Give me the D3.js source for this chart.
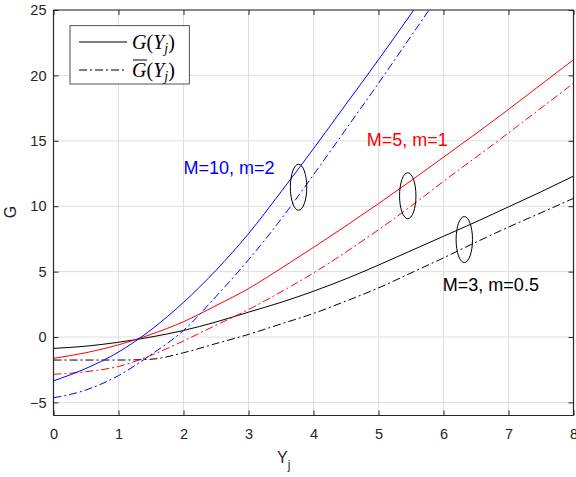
<!DOCTYPE html>
<html><head><meta charset="utf-8">
<script src="https://cdn.jsdelivr.net/npm/d3@7"></script>
<style>body{margin:0;background:#fff}svg{display:block}</style>
</head><body>
<script>
const xs = [0,0.5,1,1.5,2,2.5,3,3.5,4,4.5,5,5.5,6,6.5,7,7.5,8];
const blackSolid = [-0.87,-0.7,-0.4,0.0,0.5,1.15,1.9,2.65,3.5,4.45,5.5,6.6,7.7,8.8,9.95,11.1,12.3];
const blackDash  = [-1.76,-1.76,-1.76,-1.7,-1.2,-0.5,0.2,1.0,1.8,2.75,3.75,4.9,6.05,7.25,8.4,9.5,10.6];
const redSolid   = [-1.63,-1.2,-0.6,0.2,1.17,2.4,3.7,5.25,6.85,8.5,10.2,11.95,13.75,15.55,17.4,19.3,21.2];
const redDash    = [-2.85,-2.65,-2.25,-1.4,-0.3,0.9,2.1,3.45,4.9,6.5,8.2,10.0,11.9,13.75,15.6,17.5,19.4];
const blueSolid  = [-3.35,-2.4,-1.15,0.55,2.65,5.1,7.9,11.1,14.4,17.8,21.2,24.7,28.3,null,null,null,null];
const blueDash   = [-4.65,-4.05,-2.95,-1.35,0.5,3.1,5.9,9.0,12.4,15.9,19.4,23.0,26.6,null,null,null,null];
const xTicks = [0,1,2,3,4,5,6,7,8];
const yTicks = [-5,0,5,10,15,20,25];
const labels = [
  {text:"M=10, m=2", color:"#0000ff", x:2.0, y:12.5},
  {text:"M=5, m=1", color:"#ff0000", x:4.82, y:14.6},
  {text:"M=3, m=0.5", color:"#000000", x:5.99, y:3.5}
];
const ellipses = [{x:3.77,y:11.45},{x:5.45,y:10.8},{x:6.32,y:7.45}];

const W=576,H=477;
const m={l:53.5,r:573.5,t:10,b:415.5};
const svg=d3.select("body").append("svg").attr("width",W).attr("height",H);
const x=d3.scaleLinear().domain([0,8]).range([m.l,m.r]);
const y=d3.scaleLinear().domain([-6,25]).range([m.b,m.t]);
const axisCol="#262626";
const fontSans="Arial, 'Liberation Sans', Helvetica, sans-serif";

// grid
const g=svg.append("g");
g.selectAll(".gx").data(xTicks).join("line").attr("x1",d=>x(d)).attr("x2",d=>x(d)).attr("y1",m.t).attr("y2",m.b).attr("stroke","#dfdfdf").attr("stroke-width",1);
g.selectAll(".gy").data(yTicks).join("line").attr("y1",d=>y(d)).attr("y2",d=>y(d)).attr("x1",m.l).attr("x2",m.r).attr("stroke","#dfdfdf").attr("stroke-width",1);

// curves
svg.append("clipPath").attr("id","clp").append("rect").attr("x",m.l).attr("y",m.t).attr("width",m.r-m.l).attr("height",m.b-m.t);
const line=d3.line().defined(d=>d[1]!==null).x(d=>x(d[0])).y(d=>y(d[1])).curve(d3.curveMonotoneX);
const series=[
  {v:blackSolid,c:"#000000",dash:null},
  {v:blackDash,c:"#000000",dash:"8,3,2,3"},
  {v:redSolid,c:"#ff0000",dash:null},
  {v:redDash,c:"#ff0000",dash:"8,3,2,3"},
  {v:blueSolid,c:"#0000ff",dash:null},
  {v:blueDash,c:"#0000ff",dash:"8,3,2,3"}
];
const cg=svg.append("g").attr("clip-path","url(#clp)");
series.forEach(s=>{
  cg.append("path").datum(xs.map((d,i)=>[d,s.v[i]])).attr("d",line).attr("fill","none").attr("stroke",s.c).attr("stroke-width",1).attr("stroke-dasharray",s.dash);
});

// ellipses
svg.selectAll(".el").data(ellipses).join("ellipse").attr("cx",d=>x(d.x)).attr("cy",d=>y(d.y)).attr("rx",8.2).attr("ry",23).attr("fill","none").attr("stroke","#000").attr("stroke-width",1);

// labels
svg.selectAll(".lb").data(labels).join("text").attr("x",d=>x(d.x)).attr("y",d=>y(d.y)).attr("fill",d=>d.color).attr("font-family",fontSans).attr("font-size",18).text(d=>d.text);

// axes
const ax=svg.append("g").attr("transform",`translate(0,${m.b})`).call(d3.axisBottom(x).tickValues(xTicks).tickSize(-5).tickPadding(13).tickFormat(d3.format("d")));
const axT=svg.append("g").attr("transform",`translate(0,${m.t})`).call(d3.axisTop(x).tickValues(xTicks).tickSize(-5).tickFormat(""));
const ay=svg.append("g").attr("transform",`translate(${m.l},0)`).call(d3.axisLeft(y).tickValues(yTicks).tickSize(-5).tickPadding(7).tickFormat(d3.format("d")));
const ayR=svg.append("g").attr("transform",`translate(${m.r},0)`).call(d3.axisRight(y).tickValues(yTicks).tickSize(-5).tickFormat(""));
[ax,axT,ay,ayR].forEach(a=>{a.selectAll("path").attr("stroke",axisCol).attr("stroke-width",1.2);a.selectAll("line").attr("stroke",axisCol);a.selectAll("text").attr("fill",axisCol).attr("font-size",14.5).attr("font-family",fontSans);});
ax.select(".domain").attr("d",`M${m.l},0H${m.r}`);
axT.select(".domain").attr("d",`M${m.l},0H${m.r}`);
ay.select(".domain").attr("d",`M0,${m.t}V${m.b}`);
ayR.select(".domain").attr("d",`M0,${m.t}V${m.b}`);

// axis titles
const xt=svg.append("text").attr("x",277).attr("y",463).attr("font-family",fontSans).attr("font-size",16).attr("fill",axisCol);
xt.append("tspan").text("Y");
xt.append("tspan").attr("font-size",12).attr("dy",6).text("j");
svg.append("text").attr("transform","translate(16,212) rotate(-90)").attr("text-anchor","middle").attr("font-family",fontSans).attr("font-size",16).attr("fill",axisCol).text("G");

// legend
const lg=svg.append("g");
lg.append("rect").attr("x",70).attr("y",25.7).attr("width",119.3).attr("height",58.3).attr("fill","#fff").attr("stroke",axisCol).attr("stroke-width",0.8);
const legItems=[{dash:null,over:false,yy:42},{dash:"8,3,2,3",over:true,yy:70}];
legItems.forEach(it=>{
  lg.append("line").attr("x1",79).attr("x2",127).attr("y1",it.yy).attr("y2",it.yy).attr("stroke","#000").attr("stroke-width",1).attr("stroke-dasharray",it.dash);
  const t=lg.append("text").attr("x",132).attr("y",it.yy+7).attr("font-family","'Liberation Serif','Times New Roman',serif").attr("font-size",20).attr("fill","#000");
  t.append("tspan").attr("font-style","italic").text("G");
  t.append("tspan").text("(");
  t.append("tspan").attr("font-style","italic").text("Y");
  t.append("tspan").attr("font-style","italic").attr("font-size",14).attr("dy",4).text("j");
  t.append("tspan").attr("dy",-4).text(")");
  if(it.over){lg.append("line").attr("x1",133).attr("x2",147).attr("y1",it.yy-10).attr("y2",it.yy-10).attr("stroke","#000").attr("stroke-width",1);}
});
</script>
</body></html>
